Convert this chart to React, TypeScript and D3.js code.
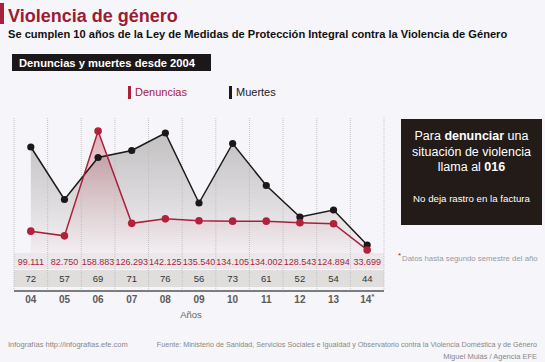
import React from "react";
import * as d3 from "d3";

const years = ["04", "05", "06", "07", "08", "09", "10", "11", "12", "13", "14"];
const denuncias = [99111, 82750, 158883, 126293, 142125, 135540, 134105, 134002, 128543, 124894, 33699];
const muertes = [72, 57, 69, 71, 76, 56, 73, 61, 52, 54, 44];

const W = 545;
const H = 362;
const FONT = "'Liberation Sans', Arial, Helvetica, sans-serif";
const RED = "#a8213a";
const DARK = "#1c1718";

const fmt = (v: number) => d3.format(",")(v).replace(/,/g, ".");

export default function App() {
  const x = d3.scaleBand<string>().domain(years).range([14, 384]).padding(0);
  const bw = x.bandwidth();
  const cx = (y: string) => (x(y) as number) + bw / 2;
  const yM = d3.scaleLinear().domain([44, 76]).range([245, 133]);
  const yD = d3.scaleLinear().domain([30000, 145000, 160000]).range([251, 218, 124]);
  const base = 253;

  const mPts = years.map((y, i) => [cx(y), yM(muertes[i])] as [number, number]);
  const dPts = years.map((y, i) => [cx(y), yD(denuncias[i])] as [number, number]);
  const line = d3.line<[number, number]>().x((d) => d[0]).y((d) => d[1]);
  const area = d3.area<[number, number]>().x((d) => d[0]).y0(base).y1((d) => d[1]);

  const gridX = [...years.map((y) => x(y) as number), 384];

  return (
    <svg width={W} height={H} style={{ position: "absolute", left: 0, top: 0, fontFamily: FONT }}>
      <defs>
        <linearGradient id="gGray" x1="0" y1="0" x2="0" y2="1" gradientUnits="objectBoundingBox">
          <stop offset="0" stopColor="#c3c0c2" />
          <stop offset="0.6" stopColor="#dedcde" />
          <stop offset="1" stopColor="#f3f2f5" />
        </linearGradient>
        <linearGradient id="gRed" x1="0" y1="0" x2="0" y2="1" gradientUnits="objectBoundingBox">
          <stop offset="0" stopColor="#b3283f" stopOpacity="0.35" />
          <stop offset="0.5" stopColor="#c0485a" stopOpacity="0.15" />
          <stop offset="1" stopColor="#e8c8cf" stopOpacity="0.1" />
        </linearGradient>
      </defs>
      <rect width={W} height={H} fill="#f6f5f9" />

      {/* Title */}
      <rect x={0} y={3} width={4} height={21} fill={RED} />
      <text x={8} y={22} fontSize={18} fontWeight="bold" fill="#9b1c33">Violencia de género</text>
      <text x={8} y={38} fontSize={11.1} fontWeight="bold" fill="#111">
        Se cumplen 10 años de la Ley de Medidas de Protección Integral contra la Violencia de Género
      </text>

      <rect x={12} y={54} width={199} height={17} fill={DARK} />
      <text x={19} y={67} fontSize={11.2} fontWeight="bold" fill="#fff">Denuncias y muertes desde 2004</text>

      {/* Legend */}
      <rect x={128} y={86} width={3} height={13} fill={RED} />
      <text x={135} y={96} fontSize={11} fill={RED}>Denuncias</text>
      <rect x={229} y={86} width={3} height={13} fill={DARK} />
      <text x={236} y={96} fontSize={11} fill="#222">Muertes</text>

      {/* areas */}
      <path d={area(mPts) as string} fill="url(#gGray)" />
      <path d={area(dPts) as string} fill="url(#gRed)" />

      {/* label rows */}
      <rect x={14} y={253} width={370} height={16} fill="#ebe7ea" />
      <rect x={14} y={270} width={370} height={17} fill="#dfdedd" />

      {/* grid */}
      {gridX.map((gx, i) => (
        <line key={i} x1={gx} x2={gx} y1={118} y2={290} stroke="#b9b8bb" strokeWidth={0.8} strokeDasharray="1,1" />
      ))}

      {/* lines */}
      <path d={line(mPts) as string} fill="none" stroke={DARK} strokeWidth={1.5} />
      <path d={line(dPts) as string} fill="none" stroke={RED} strokeWidth={1.5} />
      {mPts.map((p, i) => (
        <circle key={"m" + i} cx={p[0]} cy={p[1]} r={3.6} fill={DARK} />
      ))}
      {dPts.map((p, i) => (
        <circle key={"d" + i} cx={p[0]} cy={p[1]} r={3.8} fill="#b3203a" />
      ))}

      {/* values */}
      {years.map((y, i) => (
        <text key={"dv" + i} x={cx(y)} y={265} fontSize={9} fill="#a3283c" textAnchor="middle">
          {fmt(denuncias[i])}
        </text>
      ))}
      {years.map((y, i) => (
        <text key={"mv" + i} x={cx(y)} y={282} fontSize={9.5} fill="#333" textAnchor="middle">
          {muertes[i]}
        </text>
      ))}

      <line x1={14} x2={384} y1={291} y2={291} stroke="#555" strokeWidth={1.5} />
      {years.map((y, i) => (
        <text key={"yl" + i} x={cx(y)} y={303} fontSize={10} fontWeight="bold" fill="#5a5a5a" textAnchor="middle">
          {y}
          {i === years.length - 1 ? <tspan fontSize={7} dy={-4}>*</tspan> : null}
        </text>
      ))}
      <text x={191} y={318} fontSize={9.5} fill="#666" textAnchor="middle">Años</text>

      {/* info box */}
      <rect x={401} y={119} width={141} height={106} fill="#231b18" />
      <text x={471.5} y={140} fontSize={12.5} fill="#fff" textAnchor="middle">
        Para <tspan fontWeight="bold">denunciar</tspan> una
      </text>
      <text x={471.5} y={156} fontSize={12.5} fill="#fff" textAnchor="middle">situación de violencia</text>
      <text x={471.5} y={171} fontSize={12.5} fill="#fff" textAnchor="middle">
        llama al <tspan fontWeight="bold">016</tspan>
      </text>
      <text x={471.5} y={202} fontSize={9.7} fill="#fff" textAnchor="middle">No deja rastro en la factura</text>

      <text x={398} y={258} fontSize={8} fill={RED}>*</text>
      <text x={402} y={261} fontSize={7.8} fill="#999">Datos hasta segundo semestre del año</text>

      {/* footer */}
      <text x={8} y={347} fontSize={7.5} fill="#888">Infografías http://infografias.efe.com</text>
      <text x={537} y={347} fontSize={7.2} fill="#888" textAnchor="end">
        Fuente: Ministerio de Sanidad, Servicios Sociales e Igualdad y Observatorio contra la Violencia Doméstica y de Género
      </text>
      <text x={537} y={359} fontSize={7.5} fill="#888" textAnchor="end">Miguel Mulas / Agencia EFE</text>
    </svg>
  );
}
